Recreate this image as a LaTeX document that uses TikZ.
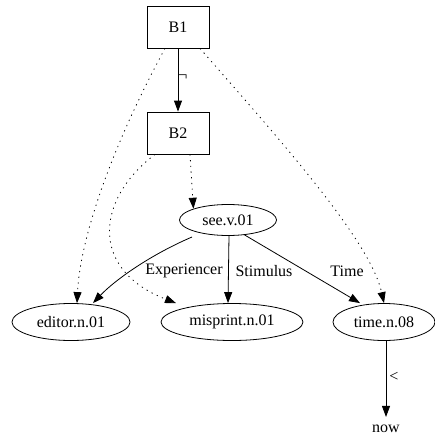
\documentclass[tikz,border=0pt]{standalone}
\usepackage{fontspec}
\setmainfont{Liberation Serif}
\usetikzlibrary{shapes.geometric,arrows.meta}
\begin{document}
\begin{tikzpicture}[x=1pt,y=-1pt,
  every node/.style={font=\fontsize{16}{19}\selectfont, inner sep=0pt},
  box/.style={draw, thick, minimum width=62pt, minimum height=42pt},
  ell/.style={draw, thick, ellipse, minimum height=37pt},
  arr/.style={thick, -{Triangle[length=11pt,width=8pt]}},
  dot/.style={thick, dash pattern=on 1.2pt off 4.5pt, -{Triangle[length=11pt,width=8pt]}}]
\useasboundingbox (0,0) rectangle (435,439);
\node[box] (B1) at (178,27) {B1};
\node[box] (B2) at (178,133) {B2};
\node[ell, minimum width=97pt, minimum height=31pt] (see) at (228,220) {see.v.01};
\node[ell, minimum width=118pt] (editor) at (71,322) {editor.n.01};
\node[ell, minimum width=142pt] (misprint) at (232,322) {misprint.n.01};
\node[ell, minimum width=102pt] (time) at (384,322) {time.n.08};
\node[inner sep=8pt] (now) at (386,429) {now};

\draw[arr] (B1) -- (B2) node at (183,78) {¬};
\coordinate (s1) at (192,237);
\draw[arr] (s1) .. controls (150,255) and (115,280) .. ([xshift=22pt]editor.north);
\node at (184,271) {Experiencer};
\draw[arr] ([xshift=1pt]see.south) -- ([yshift=0pt]misprint.north -| see.south) node at (264,271) {Stimulus};
\draw[arr] (see.-42) -- ([xshift=-24pt]time.north) node at (347,271) {Time};
\draw[arr] ([xshift=2pt]time.south) -- (now.north) node at (394,377) {<};

\draw[dot] ([xshift=-13pt]B1.south) .. controls (110,150) and (80,240) .. ([xshift=6pt]editor.north);
\draw[dot] ([xshift=22pt]B1.south) .. controls (280,140) and (370,240) .. ([xshift=0pt]time.north);
\draw[dot] ([xshift=12pt]B2.south) -- (see.north west);
\draw[dot] ([xshift=-23pt]B2.south) .. controls (95,200) and (90,270) .. ([xshift=-56pt]misprint.north);
\end{tikzpicture}
\end{document}
